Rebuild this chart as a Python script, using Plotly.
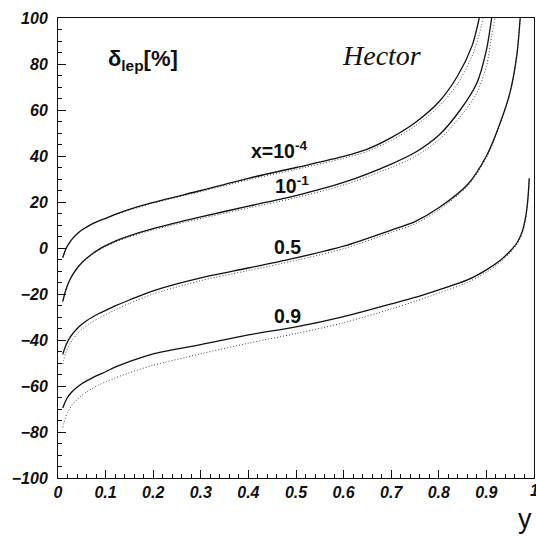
import plotly.graph_objects as go

# ---- data ----
A_x = [0.01, 0.013, 0.016, 0.02, 0.025, 0.03, 0.04, 0.05, 0.06, 0.07, 0.085, 0.1, 0.12, 0.15, 0.2, 0.3, 0.4, 0.5,
       0.6, 0.65, 0.7, 0.75, 0.8, 0.84, 0.87, 0.885]
A_solid = [-4.2, -2.3, -0.7, 1.0, 2.6, 4.0, 6.1, 7.8, 9.1, 10.3, 11.7, 12.9, 14.6, 16.8, 19.8, 25, 30.3, 35,
           39.8, 43, 48, 54.5, 63.5, 75, 88, 100]
A_dx = A_x[:-1] + [0.885, 0.893]
A_dot = [-4.2, -2.3, -0.7, 1.0, 2.6, 4.0, 6.1, 7.8, 9.1, 10.3, 11.7, 12.8, 14.4, 16.5, 19.5, 24.5, 29.6, 34.2,
         39, 42, 46.8, 53, 61.5, 71.5, 83.5, 93, 100]

B_x = [0.01, 0.013, 0.016, 0.02, 0.025, 0.03, 0.04, 0.05, 0.06, 0.07, 0.085, 0.1, 0.12, 0.15, 0.2, 0.3, 0.4, 0.5,
       0.6, 0.7, 0.75, 0.8, 0.845, 0.88, 0.9, 0.911]
B_solid = [-23.2, -20.8, -18.6, -16.2, -13.8, -11.9, -8.8, -6.4, -4.5, -2.8, -0.7, 1.0, 3.0, 5.3, 8.4, 13.5, 18.2, 22.8,
           28.5, 36.5, 41.5, 49, 60, 71.7, 86, 100]
B_dx = B_x + [0.918]
B_dot = [-23.2, -20.8, -18.6, -16.2, -13.8, -11.9, -8.9, -6.6, -4.8, -3.1, -1.0, 0.6, 2.5, 4.8, 7.9, 12.8, 17.4, 21.9,
         27.4, 35, 39.8, 47, 57, 67.5, 79, 92, 100]

C_x = [0.01, 0.013, 0.016, 0.02, 0.025, 0.03, 0.04, 0.05, 0.06, 0.07, 0.085, 0.1, 0.12, 0.15, 0.2, 0.3, 0.4, 0.5,
       0.6, 0.7, 0.75, 0.8, 0.86, 0.9, 0.93, 0.95, 0.964, 0.971]
C_solid = [-46.3, -44.3, -42.6, -40.8, -39, -37.5, -35.1, -33.2, -31.6, -30.3, -28.6, -27.1, -25.2, -22.6, -18.6, -13, -8.7, -4.3,
           0.8, 7.8, 11.5, 17.5, 27.5, 40, 55, 68, 84, 100]
C_dot = [-50.5, -47.8, -45.7, -43.6, -41.6, -40, -37.4, -35.4, -33.8, -32.4, -30.6, -29, -26.9, -24.1, -20, -14.2, -9.8, -5.4,
         -0.3, 6.8, 10.5, 16.5, 26.8, 39.2, 54.5, 67.5, 84, 100]

D_x = [0.01, 0.013, 0.016, 0.02, 0.025, 0.03, 0.04, 0.05, 0.06, 0.07, 0.085, 0.1, 0.12, 0.15, 0.2, 0.3, 0.4, 0.5,
       0.6, 0.7, 0.75, 0.8, 0.86, 0.9, 0.93, 0.95, 0.965, 0.975, 0.982, 0.987, 0.99]
D_solid = [-69.6, -67.9, -66.5, -65, -63.6, -62.4, -60.5, -59, -57.8, -56.7, -55.2, -53.8, -51.8, -49.4, -46, -42, -37.8, -34.3,
           -29.8, -24.3, -21.5, -18.2, -13.9, -9.5, -5.2, -1.3, 2.5, 7, 13, 21, 30.3]
D_dot = [-78, -75.5, -73.5, -71.5, -69.7, -68.2, -66, -64.1, -62.6, -61.3, -59.6, -58.2, -56.5, -54.2, -51, -46, -41.4, -37.2,
         -32.5, -26.5, -23.2, -19.6, -15, -10.5, -6, -2.1, 1.8, 6.2, 12, 20, 30]

x_ticks = [0, 0.1, 0.2, 0.3, 0.4, 0.5, 0.6, 0.7, 0.8, 0.9, 1]
x_ticktext = ["0", "0.1", "0.2", "0.3", "0.4", "0.5", "0.6", "0.7", "0.8", "0.9", ""]
last_tick_label = "1"
y_ticks = [-100, -80, -60, -40, -20, 0, 20, 40, 60, 80, 100]

curve_labels = ["x=10<sup>-4</sup>", "10<sup>-1</sup>", "0.5", "0.9"]
label_x = [0.402, 0.452, 0.449, 0.449]
label_y = [42.6, 27.4, 0.3, -29.6]

# ---- figure ----
fig = go.Figure()
solid_style = dict(color="#111111", width=1.3)
dot_style = dict(color="#444444", width=1, dash="1px,2px")

for xs, ys in [(A_dx, A_dot), (B_dx, B_dot), (C_x, C_dot), (D_x, D_dot)]:
    fig.add_trace(go.Scatter(x=xs, y=ys, mode="lines", line=dict(shape="spline", smoothing=0.8, **dot_style),
                             showlegend=False, hoverinfo="skip"))
for xs, ys in [(A_x, A_solid), (B_x, B_solid), (C_x, C_solid), (D_x, D_solid)]:
    fig.add_trace(go.Scatter(x=xs, y=ys, mode="lines", line=dict(shape="spline", smoothing=0.8, **solid_style),
                             showlegend=False, hoverinfo="skip"))

tickfont = dict(family="Liberation Sans, Arial, sans-serif", size=16, color="#111111", weight="bold", style="italic")

fig.update_xaxes(range=[0, 1], tickvals=x_ticks, ticktext=x_ticktext, ticks="inside", ticklen=8, tickwidth=1,
                 tickcolor="#111111", showline=True, linecolor="#111111", linewidth=1, mirror=True,
                 showgrid=False, zeroline=False, tickfont=tickfont, automargin=False,
                 minor=dict(dtick=0.02, tick0=0, ticks="inside", ticklen=4, tickcolor="#111111", tickwidth=1, showgrid=False))
fig.update_yaxes(range=[-100, 100], tickvals=y_ticks, ticks="inside", ticklen=8, tickwidth=1,
                 tickcolor="#111111", showline=True, linecolor="#111111", linewidth=1, mirror=True,
                 showgrid=False, zeroline=False, tickfont=tickfont, ticklabelstandoff=6, automargin=False,
                 minor=dict(dtick=5, tick0=0, ticks="inside", ticklen=4, tickcolor="#111111", tickwidth=1, showgrid=False))

annots = []
lab_font = dict(family="Liberation Sans, Arial, sans-serif", size=19.5, color="#111111", weight="bold")
for t, lx, ly in zip(curve_labels, label_x, label_y):
    annots.append(dict(x=lx, y=ly, xref="x", yref="y", text=t, showarrow=False, xanchor="left", yanchor="middle",
                       font=lab_font))
annots.append(dict(x=0.101, y=81.7, xref="x", yref="y", text="δ<sub>lep</sub>[%]", showarrow=False,
                   xanchor="left", yanchor="middle",
                   font=dict(family="Liberation Sans, Arial, sans-serif", size=22, color="#111111", weight="bold")))
annots.append(dict(x=0.592, y=83.9, xref="x", yref="y", text="Hector", showarrow=False,
                   xanchor="left", yanchor="middle",
                   font=dict(family="Liberation Serif, Times New Roman, serif", size=28, color="#111111", style="italic")))
annots.append(dict(x=1.0, y=-0.089, xref="paper", yref="paper", text="y", showarrow=False,
                   xanchor="right", yanchor="middle",
                   font=dict(family="Liberation Sans, Arial, sans-serif", size=27, color="#111111")))
annots.append(dict(x=1.0, y=-0.028, xref="paper", yref="paper", text=last_tick_label, showarrow=False,
                   xanchor="center", yanchor="middle", font=tickfont))

fig.update_layout(width=536, height=536, margin=dict(l=58, r=2, t=18, b=58, autoexpand=False),
                  paper_bgcolor="white", plot_bgcolor="white", annotations=annots, showlegend=False)

fig.write_html("out.html", config={"displayModeBar": False},
               post_script="document.body.style.margin='0';document.body.style.overflow='hidden';")
